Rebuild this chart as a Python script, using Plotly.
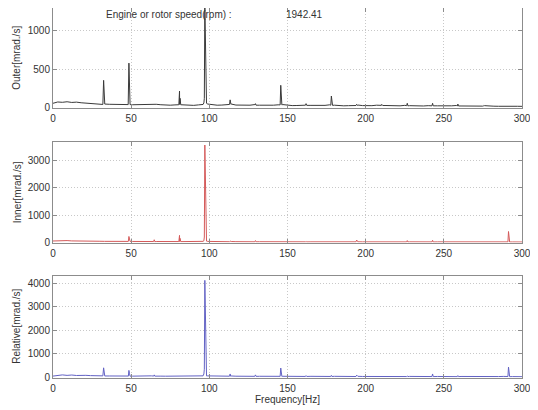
import plotly.graph_objects as go

# ---------------- data ----------------
base_freq = list(range(0, 301, 3))  # Hz, baseline spectrum bins

outer_base = [55, 72, 68, 75, 66, 70, 62, 58, 52, 55,
              48, 45, 42, 40, 44, 38, 40, 36, 38, 35,
              40, 48, 42, 36, 32, 30, 34, 40, 32, 30,
              28, 34, 40, 45, 35, 30, 32, 38, 45, 32,
              30, 28, 30, 38, 30, 28, 26, 30, 35, 38,
              28, 25, 26, 30, 40, 28, 26, 25, 28, 35,
              30, 24, 22, 24, 28, 32, 25, 22, 24, 30,
              35, 26, 22, 20, 22, 28, 24, 20, 19, 20,
              24, 28, 22, 20, 18, 22, 26, 20, 18, 17,
              18, 20, 24, 18, 17, 16, 18, 20, 17, 16,
              15]
outer_pk_freq = [31.9, 32.37, 32.7, 33.1, 48.1, 48.56, 48.9, 49.3, 80.5, 80.93, 81.3, 81.7,
                 96.5, 96.8, 97.12, 97.45, 97.8, 98.2, 112.9, 113.31, 113.8, 129.1, 129.5, 129.9,
                 145.3, 145.68, 146.0, 146.4, 161.5, 161.87, 162.3, 177.7, 178.06, 178.4, 178.8,
                 193.8, 194.24, 194.7, 210.0, 210.43, 210.9, 226.2, 226.62, 227.0, 242.4, 242.8, 243.2,
                 258.6, 258.99, 259.4, 274.8, 275.18, 275.6]
outer_pk_amp = [40, 355, 250, 45, 38, 580, 320, 38, 36, 215, 120, 36,
                60, 120, 1340, 700, 130, 55, 40, 100, 42, 32, 50, 30,
                34, 290, 150, 34, 30, 50, 28, 30, 150, 80, 28,
                26, 42, 26, 28, 40, 26, 24, 55, 22, 22, 55, 22,
                20, 45, 20, 18, 25, 18]

inner_base = [55, 68, 62, 70, 58, 60, 52, 55, 48, 50, 45,
              42, 40, 44, 38, 40, 36, 38, 35, 40, 45, 40, 36, 34, 32, 35, 38, 34, 32, 30, 34, 38, 42, 40,
              34, 30, 28, 32, 36, 30, 28, 26, 28, 32,
              28, 26, 25, 28, 30, 26, 24, 25, 28, 32,
              26, 24, 23, 25, 28, 30, 25, 23, 22, 24,
              28, 26, 23, 22, 24, 26, 28, 24, 22, 21,
              23, 26, 24, 22, 21, 22, 24, 26, 23, 21,
              20, 22, 25, 23, 21, 20, 22, 24, 22, 20,
              19, 21, 24, 22, 20, 19, 18]
inner_pk_freq = [48.2, 48.56, 48.9, 49.3, 64.4, 64.75, 65.1, 80.5, 80.93, 81.3, 81.7,
                 96.5, 96.8, 97.12, 97.45, 97.8, 98.2, 112.9, 113.31, 113.7, 129.1, 129.5, 129.9,
                 161.5, 161.87, 162.3, 193.8, 194.24, 194.7, 226.2, 226.62, 227.0, 242.4, 242.8, 243.2,
                 258.6, 258.99, 259.4, 274.8, 275.18, 275.6, 290.9, 291.37, 291.7, 292.1]
inner_pk_amp = [40, 220, 120, 40, 35, 100, 32, 34, 260, 150, 32,
                60, 200, 3550, 2000, 220, 50, 28, 50, 26, 26, 70, 26,
                24, 40, 22, 24, 90, 22, 22, 70, 22, 22, 80, 20,
                20, 30, 20, 18, 30, 18, 18, 400, 200, 18]

rel_base = [60, 95, 110, 90, 105, 85, 100, 92, 80, 88, 75,
            70, 65, 72, 60, 68, 62, 58, 64, 72, 85, 70, 62, 58, 55, 60, 65, 58, 55, 52, 58, 62, 70, 68,
            60, 55, 52, 58, 65, 55, 52, 50, 55, 60,
            52, 48, 50, 55, 62, 52, 48, 46, 50, 58,
            60, 50, 46, 44, 48, 55, 50, 45, 43, 46,
            52, 50, 44, 42, 45, 50, 55, 48, 44, 42,
            45, 50, 46, 42, 40, 42, 46, 50, 44, 40,
            38, 42, 48, 44, 40, 38, 42, 46, 42, 38,
            36, 40, 46, 42, 38, 36, 34]
rel_pk_freq = [31.9, 32.37, 32.7, 33.1, 48.2, 48.56, 48.9, 49.3, 64.4, 64.75, 65.1,
               96.5, 96.8, 97.12, 97.45, 97.8, 98.2, 112.9, 113.31, 113.7, 129.1, 129.5, 129.9,
               145.3, 145.68, 146.0, 146.4, 161.5, 161.87, 162.3, 177.7, 178.06, 178.4,
               193.8, 194.24, 194.7, 210.0, 210.43, 210.9, 226.2, 226.62, 227.0, 242.4, 242.8, 243.2,
               258.6, 258.99, 259.4, 274.8, 275.18, 275.6, 290.9, 291.37, 291.7, 292.1]
rel_pk_amp = [70, 410, 250, 65, 58, 300, 180, 56, 60, 110, 58,
              150, 350, 4115, 2300, 350, 70, 55, 150, 52, 50, 110, 48,
              50, 400, 200, 48, 45, 80, 44, 44, 90, 44,
              42, 100, 42, 40, 60, 40, 40, 60, 38, 40, 150, 38,
              36, 80, 36, 34, 50, 34, 34, 440, 250, 34]

x_ticks = [0, 50, 100, 150, 200, 250, 300]
outer_ticks = [0, 500, 1000]
inner_ticks = [0, 1000, 2000, 3000]
rel_ticks = [0, 1000, 2000, 3000, 4000]
y_ranges = [[0, 1300], [0, 3660], [0, 4300]]
y_titles = ["Outer[mrad./s]", "Inner[mrad./s]", "Relative[mrad./s]"]
speed_label = "Engine or rotor speed(rpm) :"
speed_value = "1942.41"


def merge(bf, ba, pf, pa):
    pts = sorted(list(zip(bf, ba)) + list(zip(pf, pa)))
    return [p[0] for p in pts], [p[1] for p in pts]


series = [
    merge(base_freq, outer_base, outer_pk_freq, outer_pk_amp),
    merge(base_freq, inner_base, inner_pk_freq, inner_pk_amp),
    merge(base_freq, rel_base, rel_pk_freq, rel_pk_amp),
]
colors = ["#3a3a3a", "#d45a5a", "#6262c4"]
tick_sets = [outer_ticks, inner_ticks, rel_ticks]

# page body has an 8px default margin: the figure is placed at (8, 8)
OFF = 8
W, H = 538 - OFF, 410 - OFF


def px(x):
    return (x - OFF) / W


def py(y):
    return 1 - (y - OFF) / H


x0, x1 = px(53), px(522)
domains = [[py(107.5), py(8)], [py(242.5), py(142)], [py(377.5), py(276)]]
domains = [[max(0, a), min(1, b)] for a, b in domains]

fig = go.Figure()
font = dict(family="Liberation Sans, Arial, sans-serif", size=10, color="#333333")

layout = dict(
    width=W, height=H, margin=dict(l=0, r=0, t=0, b=0, autoexpand=False),
    paper_bgcolor="white", plot_bgcolor="white", showlegend=False, font=font,
)

for i, (xs, ys) in enumerate(series):
    n = "" if i == 0 else str(i + 1)
    fig.add_trace(go.Scatter(x=xs, y=ys, mode="lines",
                             line=dict(color=colors[i], width=1),
                             xaxis="x" + n, yaxis="y" + n, cliponaxis=True))
    common = dict(showline=True, linecolor="#8c8c8c", linewidth=1, mirror="ticks",
                  ticks="inside", ticklen=4, tickcolor="#8c8c8c",
                  showgrid=True, gridcolor="#c8c8c8", griddash="1px,2px", gridwidth=1,
                  zeroline=False, tickfont=font, automargin=False)
    layout["xaxis" + n] = dict(domain=[x0, x1], range=[0, 300], tickvals=x_ticks,
                               anchor="y" + n, ticklabelstandoff=1, **common)
    layout["yaxis" + n] = dict(domain=domains[i], range=y_ranges[i], tickvals=tick_sets[i],
                               anchor="x" + n, **common)

layout["xaxis3"]["title"] = dict(text="Frequency[Hz]", font=font, standoff=2)

annotations = []
for i, t in enumerate(y_titles):
    annotations.append(dict(text=t, xref="paper", yref="paper", x=px(17),
                            y=(domains[i][0] + domains[i][1]) / 2, textangle=-90,
                            showarrow=False, font=font, xanchor="center", yanchor="middle"))
annotations.append(dict(text=speed_label, xref="paper", yref="paper", x=px(104), y=py(14),
                        showarrow=False, font=font, xanchor="left", yanchor="middle"))
annotations.append(dict(text=speed_value, xref="paper", yref="paper", x=px(284), y=py(14),
                        showarrow=False, font=font, xanchor="left", yanchor="middle"))
layout["annotations"] = annotations

fig.update_layout(**layout)
fig.write_html("out.html")
